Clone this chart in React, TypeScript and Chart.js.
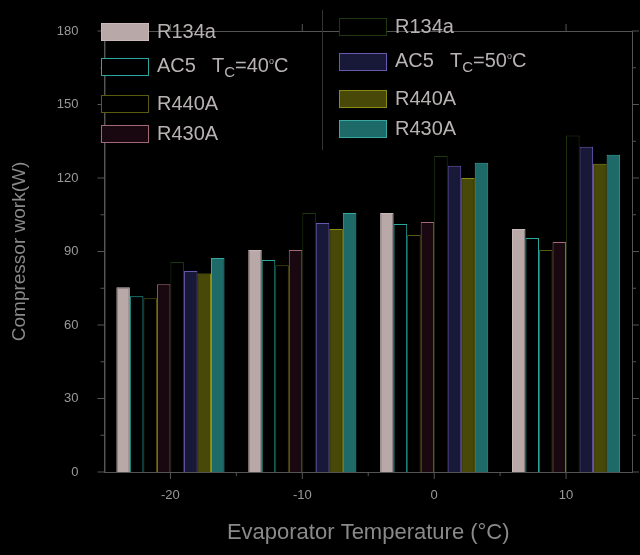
import React, { useEffect, useRef } from "react";
import { Chart, registerables } from "chart.js";
Chart.register(...registerables);

const categories = ["-20", "-10", "0", "10"];
const r134a40 = [75.4, 90.6, 105.7, 99.2];
const ac540 = [71.7, 86.5, 101.2, 95.5];
const r440a40 = [70.9, 84.4, 96.7, 90.6];
const r430a40 = [76.6, 90.6, 102, 93.9];
const r134a50 = [85.7, 105.7, 129, 137.3];
const ac550 = [82, 101.6, 125, 132.8];
const r440a50 = [81, 99.2, 120, 125.8];
const r430a50 = [87.3, 105.7, 126.2, 129.5];
const yTicks = [0, 30, 60, 90, 120, 150, 180];

const series = [
  { label: "R134a", data: r134a40, bg: "#b8a8a8", bd: "#c8b8b8" },
  { label: "AC5", data: ac540, bg: "#000000", bd: "#2aa8a0" },
  { label: "R440A", data: r440a40, bg: "#000000", bd: "#5a5a10" },
  { label: "R430A", data: r430a40, bg: "#1a0810", bd: "#a06878" },
  { label: "R134a", data: r134a50, bg: "#000000", bd: "#203810" },
  { label: "AC5", data: ac550, bg: "#181838", bd: "#6a58b0" },
  { label: "R440A", data: r440a50, bg: "#484808", bd: "#8a8a18" },
  { label: "R430A", data: r430a50, bg: "#1e6a68", bd: "#38a8a0" },
];

export default function App() {
  const ref = useRef<HTMLCanvasElement>(null);
  useEffect(() => {
    document.body.style.margin = "0";
    document.body.style.background = "#000";
    const minor = {
      id: "minor",
      afterDraw(c: any) {
        const ctx = c.ctx;
        const a = c.chartArea;
        const x = c.scales.x, y = c.scales.y;
        ctx.save();
        ctx.strokeStyle = "#555";
        ctx.lineWidth = 1;
        ctx.strokeRect(a.left + 0.5, a.top + 0.5, a.right - a.left, a.bottom - a.top);
        for (let i = 0; i < categories.length; i++) {
          const px = x.getPixelForValue(i);
          ctx.beginPath(); ctx.moveTo(px, a.bottom); ctx.lineTo(px, a.bottom + 7); ctx.stroke();
          ctx.beginPath(); ctx.moveTo(px, a.top); ctx.lineTo(px, a.top - 7); ctx.stroke();
          if (i < categories.length - 1) {
            const mx = (px + x.getPixelForValue(i + 1)) / 2;
            ctx.beginPath(); ctx.moveTo(mx, a.bottom); ctx.lineTo(mx, a.bottom + 4); ctx.stroke();
          }
        }
        for (let v = 0; v <= 180; v += 15) {
          const py = y.getPixelForValue(v);
          const len = v % 30 === 0 ? 7 : 4;
          ctx.beginPath(); ctx.moveTo(a.left, py); ctx.lineTo(a.left - len, py); ctx.stroke();
          ctx.beginPath(); ctx.moveTo(a.right, py); ctx.lineTo(a.right + len, py); ctx.stroke();
        }
        ctx.restore();
      },
    };
    const chart = new Chart(ref.current!, {
      type: "bar",
      data: {
        labels: categories,
        datasets: series.map((s) => ({
          label: s.label,
          data: s.data,
          backgroundColor: s.bg,
          borderColor: s.bd,
          borderWidth: 1,
          categoryPercentage: 0.82,
          barPercentage: 1,
        })),
      },
      options: {
        animation: false,
        responsive: false,
        layout: { padding: { top: 31, right: 8, left: 4, bottom: 5 } },
        plugins: { legend: { display: false }, tooltip: { enabled: false } },
        scales: {
          x: {
            grid: { display: false },
            border: { color: "#555" },
            ticks: { color: "#999", font: { family: "Liberation Sans", size: 13 }, padding: 8 },
            title: { display: true, text: "Evaporator Temperature (°C)", color: "#8a8a8a", font: { family: "Liberation Sans", size: 22 }, padding: { top: 8 } },
          },
          y: {
            min: 0, max: 180,
            afterBuildTicks: (s: any) => { s.ticks = yTicks.map((v) => ({ value: v })); },
            grid: { display: false },
            border: { color: "#555" },
            ticks: { color: "#999", font: { family: "Liberation Sans", size: 13 }, padding: 18 },
            title: { display: true, text: "Compressor work(W)", color: "#8a8a8a", font: { family: "Liberation Sans", size: 19 }, padding: { bottom: 8 } },
          },
        },
      },
      plugins: [minor],
    });
    return () => chart.destroy();
  }, []);

  const item = (i: number, top: number, left: number, extra?: string) => (
    <div key={i} style={{ position: "absolute", top, left, display: "flex", alignItems: "center", color: "#b8b2b2", fontFamily: "Liberation Sans", fontSize: 20 }}>
      <div style={{ width: 48, height: 18, background: series[i].bg, border: `1px solid ${series[i].bd}`, marginRight: 8, boxSizing: "border-box" }} />
      <span>{series[i].label}{extra ? <span style={{ marginLeft: 16 }}>T<sub style={{ fontSize: 15 }}>C</sub>={extra}<sup style={{ fontSize: 9 }}>o</sup>C</span> : null}</span>
    </div>
  );

  return (
    <div style={{ position: "relative", width: 640, height: 555, background: "#000" }}>
      <canvas ref={ref} width={640} height={555} />
      {item(0, 20, 101)}
      {item(1, 54, 101, "40")}
      {item(2, 92, 101)}
      {item(3, 122, 101)}
      <div style={{ position: "absolute", left: 322, top: 10, width: 1, height: 140, background: "#333" }} />
      {item(4, 15, 339)}
      {item(5, 49, 339, "50")}
      {item(6, 87, 339)}
      {item(7, 117, 339)}
    </div>
  );
}
